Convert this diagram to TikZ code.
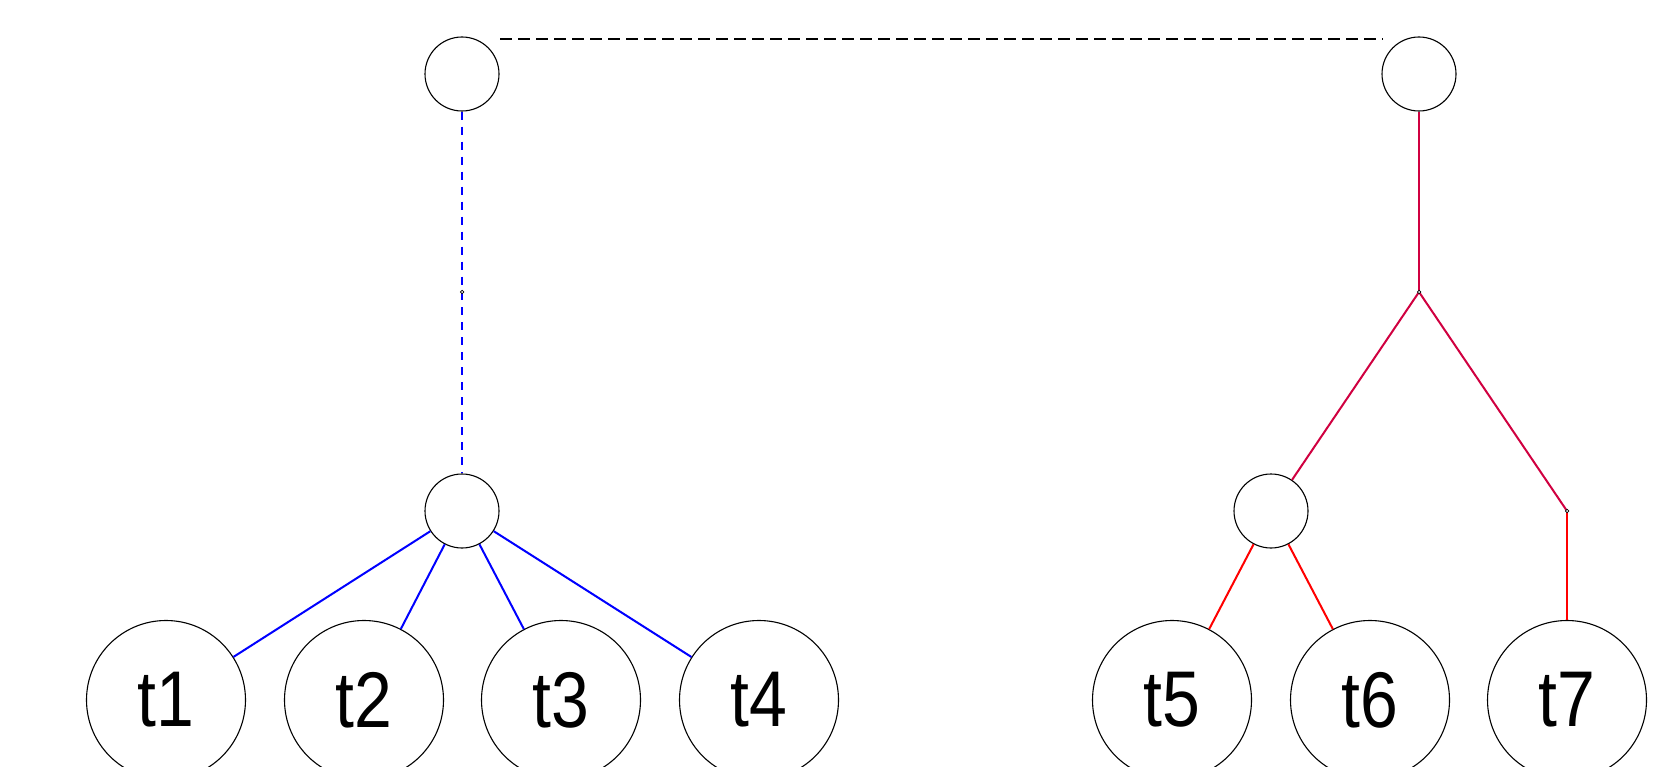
\documentclass[tikz,border=0pt]{standalone}
\usepackage{fontspec}
\setmainfont{Liberation Sans}
\newfontfamily\leaffont[FakeStretch=0.86]{Liberation Sans}
\definecolor{crim}{RGB}{208,0,64}
\begin{document}
\begin{tikzpicture}[x=1pt,y=-1pt,
  inner/.style={circle,draw=black,line width=1.1pt,minimum size=74pt,inner sep=0pt},
  leaf/.style={circle,draw=black,line width=1.1pt,minimum size=159pt,inner sep=0pt,
               font=\leaffont\fontsize{79}{79}\selectfont},
  joint/.style={circle,draw=black,fill=white,line width=0.7pt,minimum size=3.5pt,inner sep=0pt},
  blueedge/.style={draw=blue,line width=2pt},
  rededge/.style={draw=red,line width=2pt},
  crimedge/.style={draw=crim,line width=2pt},
  link/.style={draw=black,line width=1.6pt,dash pattern=on 12pt off 6pt},
  bluelink/.style={draw=blue,line width=2pt,dash pattern=on 8pt off 7pt}]
  \useasboundingbox (0,0) rectangle (1662,767);

  % upper level
  \node[inner] (ra) at (462,74) {};
  \node[inner] (rb) at (1419,74) {};
  \coordinate (la) at (500,39);
  \coordinate (lb) at (1383,39);
  \draw[link] (la) -- (lb);

  % left subtree
  \node[inner] (ma) at (462,511) {};
  \node[leaf] (t1) at (166,700) {t1};
  \node[leaf] (t2) at (364,700) {t2};
  \node[leaf] (t3) at (561,700) {t3};
  \node[leaf] (t4) at (759,700) {t4};
  \draw[bluelink] (ra) -- (462,292) coordinate (ja);
  \draw[bluelink] (ja) -- (ma);
  \foreach \t in {t1,t2,t3,t4} \draw[blueedge] (ma) -- (\t);

  % right subtree
  \node[inner] (mb) at (1271,511) {};
  \node[leaf] (t5) at (1172,700) {t5};
  \node[leaf] (t6) at (1370,700) {t6};
  \node[leaf] (t7) at (1567,700) {t7};
  \coordinate (jb) at (1419,292);
  \coordinate (jc) at (1567,511);
  \draw[crimedge] (rb) -- (jb);
  \draw[crimedge] (jb) -- (mb);
  \draw[crimedge] (jb) -- (jc);
  \draw[rededge] (mb) -- (t5);
  \draw[rededge] (mb) -- (t6);
  \draw[rededge] (jc) -- (t7);

  % small junction marks
  \node[joint] at (ja) {};
  \node[joint] at (jb) {};
  \node[joint] at (jc) {};
\end{tikzpicture}
\end{document}
